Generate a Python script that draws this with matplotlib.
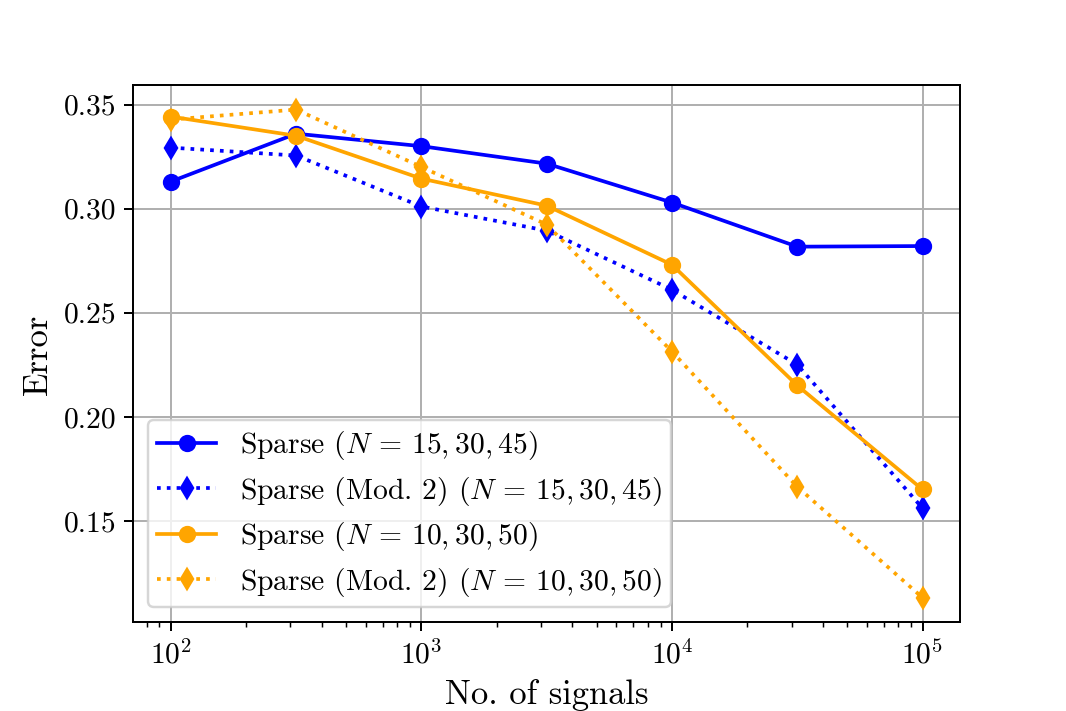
import matplotlib
matplotlib.use('Agg')
import matplotlib.pyplot as plt

plt.rcParams['font.family'] = ['cmr10', 'DejaVu Serif']
plt.rcParams['mathtext.fontset'] = 'cm'
plt.rcParams['axes.formatter.use_mathtext'] = True
plt.rcParams['axes.unicode_minus'] = False

signals = [1e2, 10**2.5, 1e3, 10**3.5, 1e4, 10**4.5, 1e5]

sparse_a = [0.313, 0.336, 0.330, 0.3216, 0.3029, 0.2817, 0.282]
sparse_a_mod2 = [0.3293, 0.3255, 0.301, 0.2894, 0.261, 0.225, 0.156]
sparse_b = [0.3442, 0.335, 0.3144, 0.3014, 0.273, 0.215, 0.165]
sparse_b_mod2 = [0.3428, 0.3476, 0.320, 0.2923, 0.2313, 0.1663, 0.113]

labels = [
    r'Sparse ($N\,=\,15,30,45$)',
    r'Sparse (Mod. 2) ($N\,=\,15,30,45$)',
    r'Sparse ($N\,=\,10,30,50$)',
    r'Sparse (Mod. 2) ($N\,=\,10,30,50$)',
]

fig, ax = plt.subplots(figsize=(6, 4), dpi=177.8)
fig.subplots_adjust(bottom=0.125)

ax.plot(signals, sparse_a, color='blue', marker='o', linestyle='-', label=labels[0])
ax.plot(signals, sparse_a_mod2, color='blue', marker='d', linestyle=':', label=labels[1])
ax.plot(signals, sparse_b, color='orange', marker='o', linestyle='-', label=labels[2])
ax.plot(signals, sparse_b_mod2, color='orange', marker='d', linestyle=':', label=labels[3])

ax.set_xscale('log')
ax.set_yticks([0.15, 0.20, 0.25, 0.30, 0.35])
ax.set_yticklabels(['0.15', '0.20', '0.25', '0.30', '0.35'])
ax.tick_params(labelsize=12)
ax.grid(True)
ax.set_xlabel('No. of signals', fontsize=14)
ax.set_ylabel('Error', fontsize=14)
ax.legend(loc='lower left', fontsize=12, labelspacing=0.42, borderpad=0.3)

fig.savefig('out.png')
